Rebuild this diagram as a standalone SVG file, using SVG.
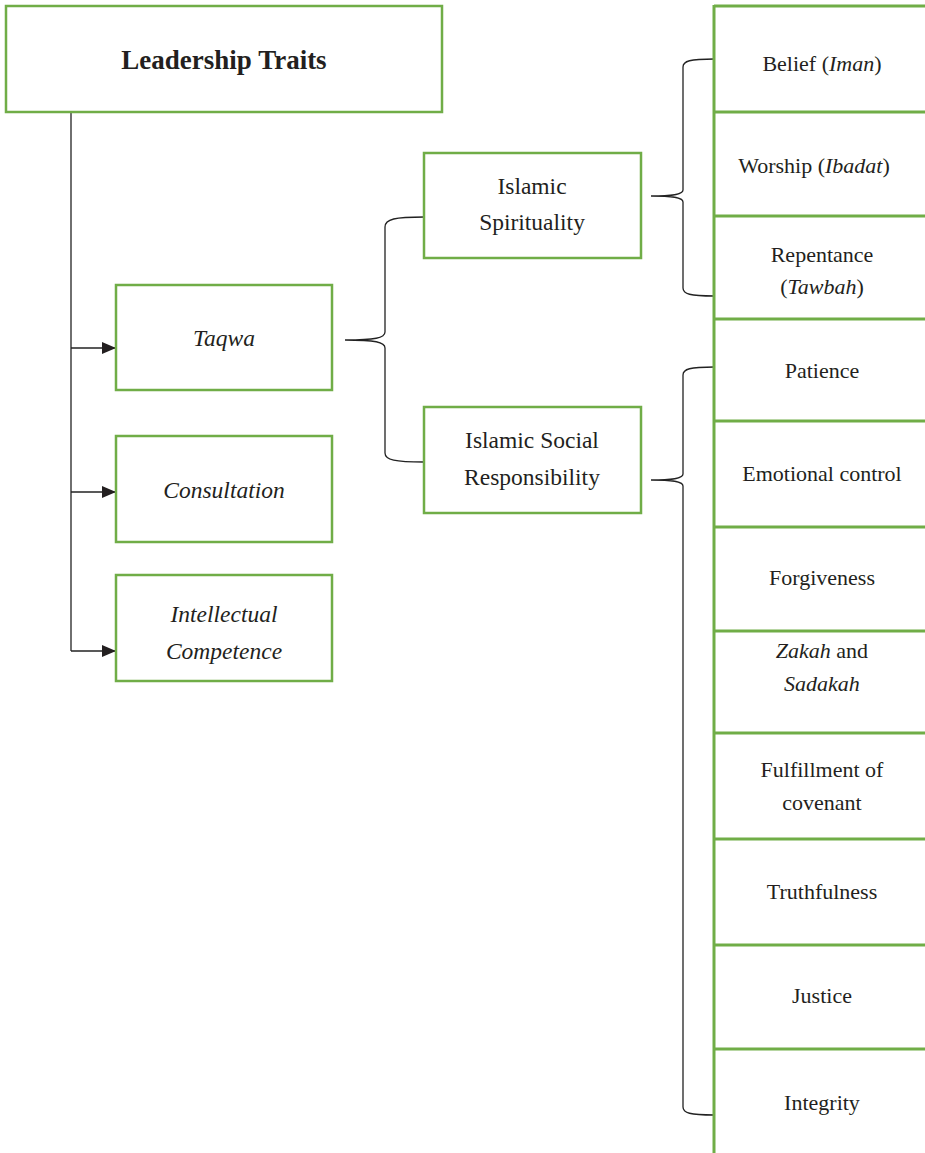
<svg xmlns="http://www.w3.org/2000/svg" width="925" height="1153" viewBox="0 0 925 1153">
<style>
.box{fill:#fff;stroke:#70ad47;stroke-width:2.5}
.cell{stroke:#70ad47;stroke-width:3;fill:none}
.conn{fill:none;stroke:#222;stroke-width:1.3}
text{font-family:"Liberation Serif","Times New Roman",serif;fill:#231f20;text-anchor:middle}
.t{font-size:23.5px}
.r{font-size:22px}
.h{font-size:27px;font-weight:bold}
.i{font-style:italic}
</style>
<defs>
<marker id="arr" markerWidth="14" markerHeight="12" refX="14" refY="6" orient="auto" markerUnits="userSpaceOnUse">
<path d="M0,0 L14,6 L0,12 Z" fill="#231f20"/>
</marker>
</defs>
<g id="connectors">
<path class="conn" d="M71,112 L71,651"/>
<path class="conn" d="M71,348 L116,348" marker-end="url(#arr)"/>
<path class="conn" d="M71,492 L116,492" marker-end="url(#arr)"/>
<path class="conn" d="M71,651 L116,651" marker-end="url(#arr)"/>
<path class="conn" d="M424,217 C395,217 385,219 385,227 L385,332 C385,338 375,340 345,340 C375,340 385,342 385,348 L385,453 C385,460 395,462 424,462"/>
<path class="conn" d="M714,59 C690,59 683,61 683,67 L683,190 C683,194 675,196 651,196 C675,196 683,198 683,202 L683,288 C683,294 690,296 714,296"/>
<path class="conn" d="M714,367 C690,367 683,369 683,375 L683,474 C683,478 675,480 651,480 C675,480 683,482 683,486 L683,1107 C683,1113 690,1115 714,1115"/>
</g>
<g id="leadership-traits">
<rect class="box" x="6" y="6" width="436" height="106"/>
<text class="h" x="224" y="69">Leadership Traits</text>
</g>
<g id="taqwa">
<rect class="box" x="116" y="285" width="216" height="105"/>
<text class="t i" x="224" y="346">Taqwa</text>
</g>
<g id="consultation">
<rect class="box" x="116" y="436" width="216" height="106"/>
<text class="t i" x="224" y="498">Consultation</text>
</g>
<g id="intellectual-competence">
<rect class="box" x="116" y="575" width="216" height="106"/>
<text class="t i" x="224" y="622">Intellectual</text>
<text class="t i" x="224" y="659">Competence</text>
</g>
<g id="islamic-spirituality">
<rect class="box" x="424" y="153" width="217" height="105"/>
<text class="t" x="532" y="194">Islamic</text>
<text class="t" x="532" y="230">Spirituality</text>
</g>
<g id="islamic-social-responsibility">
<rect class="box" x="424" y="407" width="217" height="106"/>
<text class="t" x="532" y="448">Islamic Social</text>
<text class="t" x="532" y="485">Responsibility</text>
</g>
<g id="column">
<path class="cell" d="M714,5 L714,1153"/>
<path class="cell" d="M714,6 H925 M714,112 H925 M714,216 H925 M714,319 H925 M714,421 H925 M714,527 H925 M714,631 H925 M714,733 H925 M714,839 H925 M714,945 H925 M714,1049 H925"/>
</g>
<g id="belief"><text class="r" x="822" y="71">Belief (<tspan class="i">Iman</tspan>)</text></g>
<g id="worship"><text class="r" x="814" y="173">Worship (<tspan class="i">Ibadat</tspan>)</text></g>
<g id="repentance"><text class="r" x="822" y="262">Repentance</text><text class="r" x="822" y="294">(<tspan class="i">Tawbah</tspan>)</text></g>
<g id="patience"><text class="r" x="822" y="378">Patience</text></g>
<g id="emotional-control"><text class="r" x="822" y="481">Emotional control</text></g>
<g id="forgiveness"><text class="r" x="822" y="585">Forgiveness</text></g>
<g id="zakah"><text class="r" x="822" y="658"><tspan class="i">Zakah</tspan> and</text><text class="r i" x="822" y="691">Sadakah</text></g>
<g id="fulfillment"><text class="r" x="822" y="777">Fulfillment of</text><text class="r" x="822" y="810">covenant</text></g>
<g id="truthfulness"><text class="r" x="822" y="899">Truthfulness</text></g>
<g id="justice"><text class="r" x="822" y="1003">Justice</text></g>
<g id="integrity"><text class="r" x="822" y="1110">Integrity</text></g>
</svg>
